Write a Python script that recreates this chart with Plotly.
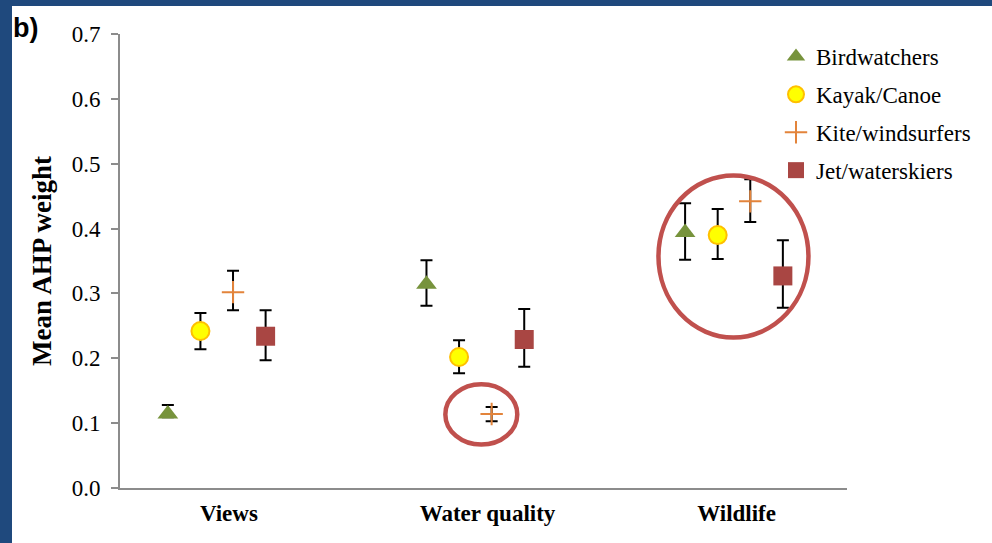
import numpy as np
import plotly.graph_objects as go

categories = ["Views", "Water quality", "Wildlife"]
series_names = ["Birdwatchers", "Kayak/Canoe", "Kite/windsurfers", "Jet/waterskiers"]

birdwatchers = [0.114, 0.314, 0.394]
birdwatchers_err_up = [0.014, 0.037, 0.045]
birdwatchers_err_down = [0.005, 0.033, 0.042]

kayak_canoe = [0.242, 0.202, 0.390]
kayak_canoe_err_up = [0.028, 0.026, 0.040]
kayak_canoe_err_down = [0.028, 0.025, 0.037]

kite_windsurfers = [0.302, 0.114, 0.442]
kite_windsurfers_err_up = [0.033, 0.011, 0.034]
kite_windsurfers_err_down = [0.028, 0.011, 0.032]

jet_waterskiers = [0.234, 0.229, 0.327]
jet_waterskiers_err_up = [0.040, 0.047, 0.055]
jet_waterskiers_err_down = [0.037, 0.042, 0.049]

values = [birdwatchers, kayak_canoe, kite_windsurfers, jet_waterskiers]
err_up = [birdwatchers_err_up, kayak_canoe_err_up, kite_windsurfers_err_up, jet_waterskiers_err_up]
err_down = [birdwatchers_err_down, kayak_canoe_err_down, kite_windsurfers_err_down, jet_waterskiers_err_down]

# styling
offsets = [-0.189, -0.063, 0.063, 0.189]
symbols = ["triangle-up", "circle", "cross-thin", "square"]
fill_colors = ["#77933C", "#FFFF00", "#E3843B", "#A94643"]
line_colors = ["#77933C", "#FFC000", "#E3843B", "#A94643"]
line_widths = [0, 2, 2, 0]
sizes = [18, 18, 16, 19]

W, H = 992, 543
ML, MR, MT, MB = 120, W - 847, 34, H - 488
PW, PH = W - ML - MR, H - MT - MB

def px(x):
    return (x - ML) / PW

def py(y):
    return (H - MB - y) / PH

serif = "Liberation Serif, Times New Roman, serif"

fig = go.Figure()
xs = np.arange(len(categories))
for i, name in enumerate(series_names):
    fig.add_trace(go.Scatter(
        x=xs + offsets[i], y=values[i], mode="markers", name=name,
        legendgroup=name,
        marker=dict(symbol=symbols[i], size=sizes[i], color=fill_colors[i],
                    line=dict(color=line_colors[i], width=line_widths[i])),
        error_y=dict(type="data", symmetric=False, array=err_up[i], arrayminus=err_down[i],
                     color="black", thickness=2, width=6),
    ))

shapes = []
# dark blue frame at left and top
shapes.append(dict(type="rect", xref="paper", yref="paper", x0=px(0), x1=px(12), y0=py(H), y1=py(0),
                   fillcolor="#1F497D", line=dict(width=0), layer="below"))
shapes.append(dict(type="rect", xref="paper", yref="paper", x0=px(0), x1=px(W), y0=py(6), y1=py(0),
                   fillcolor="#1F497D", line=dict(width=0), layer="below"))
# highlight ellipses
shapes.append(dict(type="circle", xref="x", yref="y", x0=0.884, x1=1.162, y0=0.067, y1=0.160,
                   line=dict(color="#C0504D", width=4.5)))
shapes.append(dict(type="circle", xref="x", yref="y", x0=1.708, x1=2.288, y0=0.232, y1=0.482,
                   line=dict(color="#C0504D", width=4.5)))

fig.update_layout(
    width=W, height=H,
    margin=dict(l=ML, r=MR, t=MT, b=MB, pad=0),
    paper_bgcolor="white", plot_bgcolor="white",
    font=dict(family=serif, size=23, color="black"),
    shapes=shapes,
    showlegend=True,
    legend=dict(x=px(776), y=py(35), xanchor="left", yanchor="top",
                font=dict(family=serif, size=23, color="black"),
                traceorder="grouped", tracegroupgap=5, itemwidth=30,
                bgcolor="rgba(0,0,0,0)"),
    annotations=[dict(text="<b>b)</b>", xref="paper", yref="paper", x=px(11), y=py(28),
                      xanchor="left", yanchor="middle", showarrow=False,
                      font=dict(family="Liberation Sans, Arial, sans-serif", size=27, color="black"))],
)

fig.update_xaxes(
    range=[-0.374, 2.437], tickvals=[0.047, 1.047, 2.010], ticktext=categories,
    tickfont=dict(family=serif, size=23, weight="bold"),
    showline=True, linecolor="#8C8C8C", linewidth=2, ticks="", showgrid=False, zeroline=False,
    ticklabelstandoff=3,
)
fig.update_yaxes(
    range=[0, 0.7], dtick=0.1, tick0=0, tickformat=".1f",
    tickfont=dict(family=serif, size=23),
    showline=True, linecolor="#8C8C8C", linewidth=2, ticks="outside", ticklen=7,
    tickcolor="#8C8C8C", tickwidth=2, showgrid=False, zeroline=False,
    ticklabelstandoff=6,
    title=dict(text="Mean AHP weight", font=dict(family=serif, size=27, weight="bold"), standoff=12),
)

fig.write_html(
    "out.html",
    config={"displayModeBar": False},
    post_script="document.body.style.margin='0';document.body.style.overflow='hidden';",
)
